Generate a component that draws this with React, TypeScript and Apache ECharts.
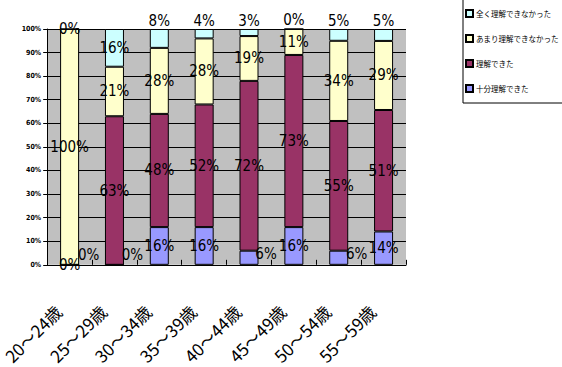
import React, { useEffect, useRef } from "react";
import * as echarts from "echarts";

const categories = ["20～24歳", "25～29歳", "30～34歳", "35～39歳", "40～44歳", "45～49歳", "50～54歳", "55～59歳"];
const seriesNames = ["十分理解できた", "理解できた", "あまり理解できなかった", "全く理解できなかった"];
const fullyUnderstood = [0, 0, 16, 16, 6, 16, 6, 14];
const understood = [0, 63, 48, 52, 72, 73, 55, 51];
const notReally = [100, 21, 28, 28, 19, 11, 34, 29];
const notAtAll = [0, 16, 8, 4, 3, 0, 5, 5];
const yTicks = [0, 10, 20, 30, 40, 50, 60, 70, 80, 90, 100];

const colors = ["#9999FF", "#993366", "#FFFFCC", "#CCFFFF"];

// label style tweaks (positions only, not data)
const labelTweaks: Record<number, Record<number, any>> = {
  0: { 1: { offset: [18, -10] }, 4: { offset: [17, -4] }, 6: { offset: [18, -4] } },
  1: { 0: { offset: [19, -10] } },
  2: {},
  3: { 2: { position: "top", distance: 1 }, 3: { position: "top", distance: 1 }, 4: { position: "top", distance: 1 }, 5: { position: "top", distance: 1 }, 6: { position: "top", distance: 1 }, 7: { position: "top", distance: 1 } },
};

export default function App() {
  const ref = useRef<HTMLDivElement>(null);
  useEffect(() => {
    if (!ref.current) return;
    const chart = echarts.init(ref.current, null, { renderer: "svg" });
    const raw = [fullyUnderstood, understood, notReally, notAtAll];
    const totals = categories.map((_, i) => raw.reduce((s, arr) => s + arr[i], 0));
    const series = raw.map((arr, si) => ({
      name: seriesNames[si],
      type: "bar",
      stack: "total",
      barWidth: 19,
      itemStyle: { color: colors[si], borderColor: "#000", borderWidth: 1 },
      label: {
        show: true,
        position: "inside",
        fontFamily: "'DejaVu Sans Condensed', 'Liberation Sans Narrow', sans-serif",
        fontSize: 15,
        color: "#000",
        formatter: (p: any) => `${arr[p.dataIndex]}%`,
      },
      data: arr.map((v, i) => {
        const item: any = { value: (v / totals[i]) * 100 };
        const tw = labelTweaks[si][i];
        if (tw) item.label = tw;
        return item;
      }),
    }));
    chart.setOption({
      animation: false,
      grid: { left: 38, right: 156, top: 29, bottom: 100, show: true, backgroundColor: "#C0C0C0", borderWidth: 0 },
      legend: {
        orient: "vertical",
        left: 463,
        top: -1,
        padding: [10, 14, 10, 2],
        itemGap: 16,
        itemWidth: 7,
        itemHeight: 7,
        icon: "rect",
        borderColor: "#000",
        borderWidth: 1,
        data: [seriesNames[3], seriesNames[2], seriesNames[1], seriesNames[0]],
        textStyle: { fontFamily: "'Noto Sans CJK JP'", fontSize: 7.5, color: "#000", padding: [0, 0, 0, -2] },
      },
      xAxis: {
        type: "category",
        data: categories,
        axisLine: { lineStyle: { color: "#000", width: 1 } },
        axisTick: { show: true, inside: true, length: 5, lineStyle: { color: "#000" } },
        axisLabel: {
          interval: 0,
          rotate: 45,
          margin: 32,
          fontFamily: "'Noto Sans CJK JP'",
          fontSize: 17,
          color: "#000",
          padding: [0, 16, 0, 0],
        },
      },
      yAxis: {
        type: "value",
        min: 0,
        max: 100,
        interval: 10,
        axisLine: { show: true, lineStyle: { color: "#000", width: 1 } },
        axisTick: { show: true, length: 4, lineStyle: { color: "#000" } },
        splitLine: { show: true, lineStyle: { color: "#000", width: 1 } },
        axisLabel: {
          formatter: (v: number) => (yTicks.includes(v) ? `${v}%` : ""),
          fontSize: 7,
          fontWeight: "bold",
          fontFamily: "'DejaVu Sans Condensed', sans-serif",
          color: "#000",
          margin: 6,
        },
      },
      series,
    });
    return () => chart.dispose();
  }, []);
  return <div ref={ref} style={{ width: 562, height: 367, position: "absolute", left: 0, top: 0 }} />;
}
